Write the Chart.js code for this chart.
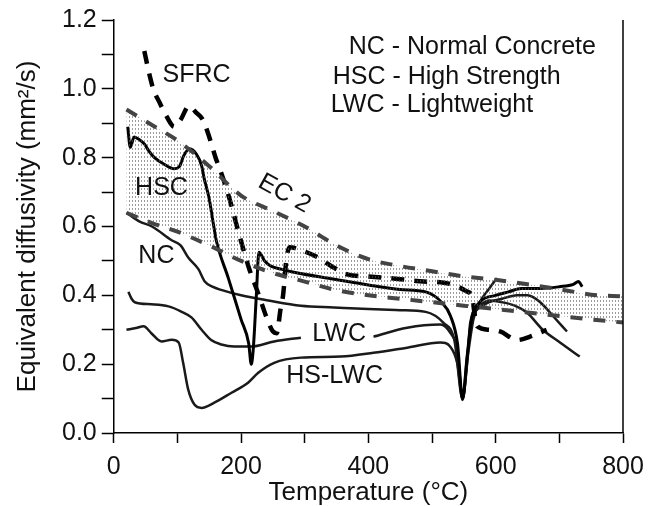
<!DOCTYPE html>
<html>
<head>
<meta charset="utf-8">
<script src="https://cdn.jsdelivr.net/npm/chart.js@4/dist/chart.umd.min.js"></script>
<style>
html,body{margin:0;padding:0;background:#fff;}
canvas{display:block;}
</style>
</head>
<body>
<canvas id="c" width="649" height="506"></canvas>
<script>
// ---- data (temperature °C, diffusivity mm²/s) ----
const xTicks = [0, 200, 400, 600, 800];
const yTicks = [0.0, 0.2, 0.4, 0.6, 0.8, 1.0, 1.2];

const ecT     = [20, 60, 100, 150, 200, 250, 300, 350, 400, 450, 500, 550, 600, 650, 700, 750, 800];
const ecUpper = [0.94, 0.895, 0.85, 0.775, 0.69, 0.645, 0.60, 0.545, 0.505, 0.485, 0.47, 0.455, 0.445, 0.432, 0.418, 0.402, 0.397];
const ecLower = [0.64, 0.61, 0.585, 0.545, 0.50, 0.465, 0.44, 0.415, 0.40, 0.39, 0.38, 0.37, 0.36, 0.35, 0.34, 0.33, 0.321];

const sfrcT = [48, 55, 62, 72, 83, 95, 105, 118, 130, 140, 150, 160, 168, 177, 185, 195, 205, 213, 228, 240, 250, 256, 262, 266, 271, 276, 299, 321, 346, 368, 400, 450, 487, 513, 534, 556, 562, 571, 590, 607, 634, 654, 680];
const sfrcV = [1.11, 1.05, 1.00, 0.96, 0.92, 0.89, 0.91, 0.95, 0.93, 0.91, 0.86, 0.80, 0.76, 0.71, 0.66, 0.59, 0.525, 0.476, 0.40, 0.336, 0.295, 0.29, 0.36, 0.40, 0.50, 0.54, 0.528, 0.51, 0.48, 0.46, 0.455, 0.447, 0.44, 0.438, 0.43, 0.41, 0.40, 0.31, 0.30, 0.295, 0.27, 0.28, 0.30];

const hscT = [22, 26, 32, 38, 48, 55, 64, 80, 95, 103, 110, 119, 130, 138, 142, 150, 156, 161, 180, 200, 212, 216, 219, 224, 228, 237, 247, 263, 283, 346, 400, 450, 490, 515, 529, 540, 548, 555, 562, 575, 600, 620, 640, 670, 700, 722, 730, 736];
const hscV = [0.89, 0.83, 0.86, 0.855, 0.84, 0.82, 0.80, 0.78, 0.768, 0.774, 0.806, 0.826, 0.81, 0.777, 0.74, 0.68, 0.613, 0.56, 0.45, 0.33, 0.26, 0.20, 0.24, 0.40, 0.525, 0.50, 0.485, 0.476, 0.467, 0.447, 0.43, 0.417, 0.41, 0.38, 0.34, 0.26, 0.10, 0.22, 0.33, 0.38, 0.40, 0.41, 0.42, 0.42, 0.425, 0.432, 0.44, 0.425];

const ncT = [20, 40, 60, 91, 105, 117, 133, 143, 155, 170, 200, 243, 294, 346, 400, 450, 490, 518, 535, 548, 555, 562, 580, 610, 634, 650, 670, 690, 712];
const ncV = [0.64, 0.615, 0.60, 0.56, 0.545, 0.51, 0.476, 0.44, 0.425, 0.415, 0.40, 0.385, 0.37, 0.365, 0.36, 0.357, 0.352, 0.32, 0.27, 0.10, 0.22, 0.32, 0.37, 0.39, 0.40, 0.40, 0.38, 0.34, 0.295];

const lwcT = [23, 28, 33, 59, 86, 106, 122, 138, 153, 169, 189, 216, 252, 294, 350, 408, 461, 513, 529, 540, 548, 555, 560, 575, 590, 610, 630, 649, 674, 701, 732];
const lwcV = [0.41, 0.39, 0.38, 0.374, 0.368, 0.353, 0.336, 0.30, 0.27, 0.257, 0.251, 0.251, 0.266, 0.277, null, 0.28, 0.306, 0.315, 0.29, 0.24, 0.10, 0.20, 0.32, 0.37, 0.385, 0.38, 0.37, 0.35, 0.30, 0.263, 0.222];

const hslwcT = [20, 35, 47, 59, 75, 91, 102, 109, 117, 127, 138, 158, 185, 211, 227, 252, 294, 357, 408, 461, 513, 529, 540, 548, 556, 565, 575, 590, 602];
const hslwcV = [0.30, 0.305, 0.31, 0.29, 0.266, 0.271, 0.263, 0.204, 0.126, 0.082, 0.073, 0.088, 0.117, 0.146, 0.175, 0.204, 0.219, 0.222, 0.233, 0.248, 0.263, 0.25, 0.20, 0.096, 0.22, 0.33, 0.38, 0.42, 0.45];

// annotation texts: [text, T, value]
const curveLabels = [
  ["SFRC", 130, 1.04],
  ["HSC", 75, 0.712],
  ["NC", 67, 0.514],
  ["LWC", 354, 0.286],
  ["HS-LWC", 347, 0.166]
];
const keyLines = [
  ["NC - Normal Concrete", 369, 1.121],
  ["HSC - High Strength", 344, 1.034],
  ["LWC - Lightweight", 341, 0.952]
];
const ecLabel = ["EC 2", 268, 0.695];

// ---- build ----
const FONT = '"Liberation Sans", Arial, Helvetica, sans-serif';
function pts(t, v) { return t.map((x, i) => ({ x: x, y: v[i] })); }

const pc = document.createElement('canvas');
pc.width = 3; pc.height = 4;
const pctx = pc.getContext('2d');
pctx.fillStyle = 'rgba(90,90,90,0.6)';
pctx.fillRect(0, 0, 1, 2);
const dotPattern = document.getElementById('c').getContext('2d').createPattern(pc, 'repeat');

const textPlugin = {
  id: 'texts',
  afterDatasetsDraw(chart) {
    const ctx = chart.ctx, xs = chart.scales.x, ys = chart.scales.y;
    ctx.save();
    ctx.fillStyle = '#111';
    ctx.font = '25px ' + FONT;
    ctx.textBaseline = 'middle';
    ctx.textAlign = 'center';
    curveLabels.forEach(l => ctx.fillText(l[0], xs.getPixelForValue(l[1]), ys.getPixelForValue(l[2])));
    ctx.textAlign = 'left';
    keyLines.forEach(l => ctx.fillText(l[0], xs.getPixelForValue(l[1]), ys.getPixelForValue(l[2])));
    ctx.translate(xs.getPixelForValue(ecLabel[1]), ys.getPixelForValue(ecLabel[2]));
    ctx.rotate(29 * Math.PI / 180);
    ctx.textAlign = 'center';
    ctx.fillText(ecLabel[0], 0, 0);
    ctx.restore();
    // right frame line
    const a = chart.chartArea;
    ctx.save();
    ctx.strokeStyle = '#000';
    ctx.lineWidth = 1.5;
    ctx.beginPath();
    ctx.moveTo(a.right, a.top);
    ctx.lineTo(a.right, a.bottom);
    ctx.stroke();
    ctx.restore();
  }
};

const common = { pointRadius: 0, borderJoinStyle: 'round', cubicInterpolationMode: 'monotone', spanGaps: false };

new Chart(document.getElementById('c'), {
  type: 'line',
  data: {
    datasets: [
      Object.assign({ label: 'EC 2 upper', data: pts(ecT, ecUpper), borderColor: '#444', borderWidth: 4, borderDash: [12, 11], fill: '+1', backgroundColor: dotPattern }, common),
      Object.assign({ label: 'EC 2 lower', data: pts(ecT, ecLower), borderColor: '#444', borderWidth: 4, borderDash: [12, 11], fill: false }, common),
      Object.assign({ label: 'SFRC', data: pts(sfrcT, sfrcV), borderColor: '#000', borderWidth: 4.5, borderDash: [13, 10], fill: false }, common),
      Object.assign({ label: 'HSC', data: pts(hscT, hscV), borderColor: '#000', borderWidth: 3, fill: false }, common),
      Object.assign({ label: 'NC', data: pts(ncT, ncV), borderColor: '#1a1a1a', borderWidth: 2.5, fill: false }, common),
      Object.assign({ label: 'LWC', data: pts(lwcT, lwcV), borderColor: '#1a1a1a', borderWidth: 2.5, fill: false }, common),
      Object.assign({ label: 'HS-LWC', data: pts(hslwcT, hslwcV), borderColor: '#1a1a1a', borderWidth: 2.5, fill: false }, common)
    ]
  },
  options: {
    responsive: false,
    animation: false,
    devicePixelRatio: 1,
    layout: { padding: { left: 15, right: 26, top: 14, bottom: 0 } },
    plugins: { legend: { display: false }, tooltip: { enabled: false } },
    scales: {
      x: {
        type: 'linear', min: 0, max: 800,
        afterFit: s => { s.paddingRight = 0; s.paddingLeft = 0; },
        border: { display: true, color: '#000', width: 1.5 },
        grid: { drawOnChartArea: false, drawTicks: true, tickLength: 10, color: '#000', tickWidth: 1.5 },
        ticks: {
          stepSize: 100, autoSkip: false, maxRotation: 0, padding: 12, color: '#111',
          font: { family: FONT, size: 25, lineHeight: 1.0 },
          callback: v => (xTicks.includes(v) ? String(v) : '')
        },
        title: { display: true, text: 'Temperature (°C)', color: '#111', font: { family: FONT, size: 26, lineHeight: 1.0 }, padding: { top: -12, bottom: 0 } }
      },
      y: {
        min: 0, max: 1.2,
        border: { display: true, color: '#000', width: 1.5 },
        grid: { drawOnChartArea: false, drawTicks: true, tickLength: 12, color: '#000', tickWidth: 1.5 },
        ticks: {
          stepSize: 0.1, autoSkip: false, padding: 5, color: '#111',
          font: { family: FONT, size: 25 },
          callback: v => { const r = Math.round(v * 10) / 10; return yTicks.some(t => Math.abs(t - r) < 1e-9) ? r.toFixed(1) : ''; }
        },
        title: { display: true, text: 'Equivalent diffusivity (mm²/s)', color: '#111', font: { family: FONT, size: 26, lineHeight: 1.0 }, padding: { top: 0, bottom: 16 } }
      }
    }
  },
  plugins: [textPlugin]
});
</script>
</body>
</html>
